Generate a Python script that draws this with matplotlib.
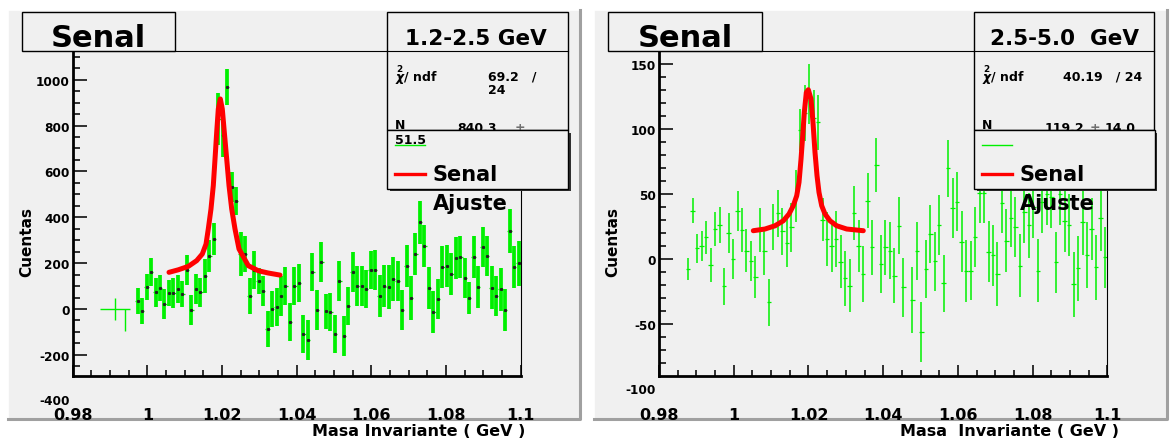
import numpy as np
import matplotlib
matplotlib.use('Agg')
from matplotlib import pyplot as plt
from matplotlib.patches import Rectangle
from matplotlib.lines import Line2D
from matplotlib.ticker import FixedLocator, MultipleLocator, FuncFormatter

plt.rcParams['font.family'] = ['DejaVu Sans']
plt.rcParams['font.weight'] = 'bold'
plt.rcParams['axes.unicode_minus'] = False

W, H = 1176, 439
PAD_GRAY = '#f0f0f0'
GREEN = '#00f000'
RED = '#ff0000'

# histogram binning (same for both pads)
n_bins = 100
x_range = (0.98, 1.1)
x_ticks = [0.98, 1.0, 1.02, 1.04, 1.06, 1.08, 1.1]

# pad 1: 1.2-2.5 GeV
low_first_bin = 14
low_counts = [35, -9, 96, 161, 73, 91, 22, 70, 70, 87, 65, 170, -4, 87, 73, 144, 231, 305,
              830, 760, 968, 532, 471, 240, 240, 57, 170, 122, 79, -87, 0, 9, 57, 100, -57,
              100, 113, -109, -135, 161, -4, 205, -9, -13, -109, 122, -118, 13, 161, 100, 100,
              87, 170, 172, 57, 100, 96, 131, 122, -4, 187, 48, 240, 379, 275, 92, -13, 44,
              183, 187, 153, 222, 227, 135, 48, 227, 96, 270, 231, 92, 57, 87, -4, 340, 183, 200]
low_errors = [55, 58, 58, 60, 62, 58, 65, 55, 65, 60, 58, 67, 67, 65, 63, 73, 69, 71,
              113, 95, 80, 65, 62, 98, 80, 80, 84, 58, 65, 80, 80, 84, 87, 84, 84,
              84, 84, 84, 87, 84, 87, 87, 76, 84, 84, 87, 87, 84, 87, 87, 87,
              84, 84, 87, 91, 91, 98, 94, 87, 87, 91, 94, 91, 94, 91, 91, 91, 87,
              91, 91, 91, 91, 91, 87, 70, 91, 91, 87, 87, 94, 87, 94, 91, 94, 91, 98]
low_stray_x = [0.9914, 0.9940]
low_stray_y = [0, 0]
low_stray_xerr = [0.004, 0.0]
low_stray_down = [46, 95]
low_stray_up = [46, 0]
low_fit_x = [1.00581, 1.00830, 1.01098, 1.01322, 1.01473, 1.01572, 1.01633, 1.01705,
             1.01767, 1.01813, 1.01858, 1.01901, 1.01955, 1.02008, 1.02062, 1.02126,
             1.02188, 1.02260, 1.02348, 1.02455, 1.02704, 1.02971, 1.03239, 1.03553]
low_fit_y = [160, 171, 186, 211, 240, 283, 349, 436, 538, 654, 771, 872, 916, 872, 771, 654,
             538, 436, 349, 262, 189, 167, 157, 148]
low_yticks = [-200, 0, 200, 400, 600, 800, 1000]

# pad 2: 2.5-5.0 GeV
high_first_bin = 6
high_counts = [-7.6, 37.1, 8.3, 10.3, 16.7, -4.3, 23.1, 26.1, -20.9, 20.0, 0.1, 37.1, 22.3,
               6.4, -1.7, -13.7, 22.3, 6.0, -33.1, 24.8, 35.1, 21.3, 12.1, 24.4, 48.6, 99.2,
               112, 127, 108, 105, 30.2, 15.4, 10.3, 15.4, -2.0, -14.5, -20.4, 35.1, 10.3,
               -11.4, 44.8, 9.0, 72.2, -3.8, 9.0, 6.4, -12.7, 25.6, -21.6, np.nan, -31.4, 6.4,
               -56.1, -7.6, 19.2, -1.7, 26.1, -18.6, 69.6, 39.0, 44.0, 13.4, -8.9, -8.9, 16.7,
               51, 51, 5.7, 3.1, -11.4, 43.0, 14.1, 31.5, 24.8, -5.1, 36, 26.1, 40, -8.9, 44,
               50, 48, -2.5, 50, 29.4, 26.1, -19.1, -7.1, 28.7, 3.1, 23.1, -6.3, 31.3, 1.4]
high_errors = [8.2, 9.5, 11.1, 11.5, 12.8, 13.2, 13.0, 14.1, 14.4, 15.3, 15.1, 15.3, 16.6,
               16.4, 15.3, 16.4, 16.9, 17.9, 17.9, 17.8, 17.9, 17.9, 18.5, 18.8, 19.8, 16.2,
               21.5, 23.0, 21.7, 21.1, 16.6, 20.4, 19.8, 21.3, 20.4, 21.1, 20.2, 20.7, 19.8,
               21.1, 21.1, 21.2, 20.4, 22.0, 21.1, 21.7, 21.1, 21.7, 22.5, np.nan, 25.0, 22.3,
               23.0, 22.1, 22.0, 22.6, 22.8, 21.7, 22.0, 23.0, 22.8, 23.6, 23.6, 22.6, 23.0,
               23.0, 23.0, 23.6, 23.4, 24.3, 23.0, 24.3, 22.4, 23.0, 24.3, 24.0, 24.9, 24.0,
               24.3, 24.0, 24.0, 24.0, 23.6, 24.0, 24.3, 23.6, 24.9, 24.9, 25.6, 25.6, 23.6,
               24.9, 24.9, 23.6]
high_fit_x = [1.00522, 1.00835, 1.01103, 1.01325, 1.01478, 1.01593, 1.01684, 1.01746,
              1.01800, 1.01845, 1.01888, 1.01942, 1.01995, 1.02067, 1.02120, 1.02174,
              1.02228, 1.02281, 1.02353, 1.02442, 1.02576, 1.02755, 1.03023, 1.03467]
high_fit_y = [21.8, 23.1, 25.6, 29.4, 34.6, 41.0, 48.6, 58.9, 76.8, 94.6, 112.6, 127.9,
              129.9, 122.8, 104.9, 81.9, 64.0, 51.2, 41.0, 34.6, 29.4, 25.6, 23.1, 21.8]
high_yticks = [-50, 0, 50, 100, 150]

edges = np.linspace(x_range[0], x_range[1], n_bins + 1)
centers = (edges[:-1] + edges[1:]) / 2
half_bin = (edges[1] - edges[0]) / 2

fig = plt.figure(figsize=(W / 100, H / 100), dpi=100)
fig.patch.set_facecolor('white')


# helpers working in image pixels (origin top-left)
def px_rect(x0, y0, x1, y1, **kw):
    fig.add_artist(Rectangle((x0 / W, 1 - y1 / H), (x1 - x0) / W, (y1 - y0) / H,
                             transform=fig.transFigure, **kw))


def px_line(xs, ys, **kw):
    fig.add_artist(Line2D([x / W for x in xs], [1 - y / H for y in ys],
                          transform=fig.transFigure, **kw))


def px_text(x, y, s, **kw):
    return fig.text(x / W, 1 - y / H, s, **kw)


def draw_pad(dx, counts, errors, first_bin, fit_x, fit_y, ylim, yticks, y_extra, minor, thick):
    px_rect(dx + 7.5, 10.5, dx + 580, 420, facecolor=PAD_GRAY, edgecolor='none', zorder=-3)
    px_line([dx + 7.5, dx + 7.5, dx + 580], [420, 10.5, 10.5], color='white', lw=1.2, zorder=-2)
    px_line([dx + 7.5, dx + 580, dx + 580], [420, 420, 10.5], color='#a0a0a0', lw=2.2, zorder=-2)

    ax = fig.add_axes([(dx + 72.6) / W, 1 - 377 / H, 448.2 / W, 325 / H])
    ax.set_facecolor('none')

    x = centers[first_bin:first_bin + len(counts)]
    y = np.array(counts, dtype=float)
    e = np.array(errors, dtype=float)
    ok = ~np.isnan(y)
    x, y, e = x[ok], y[ok], e[ok]
    if thick:
        ax.vlines(x, y - e, y + e, color=GREEN, lw=2.7)
        ax.hlines(y, x - half_bin, x + half_bin, color=GREEN, lw=0.9)
        ax.plot(x, y, ls='none', marker='s', ms=1.2, color='#202020')
    else:
        ax.vlines(x, y - e, y + e, color=GREEN, lw=1.1)
        ax.hlines(y, x - half_bin, x + half_bin, color=GREEN, lw=0.9)

    ax.plot(fit_x, fit_y, color=RED, lw=3.6, solid_capstyle='round', zorder=5)

    ax.set_xlim(*x_range)
    ax.set_ylim(*ylim)
    ax.xaxis.set_major_locator(FixedLocator(x_ticks))
    ax.xaxis.set_minor_locator(MultipleLocator(0.005))
    ax.xaxis.set_major_formatter(FuncFormatter(lambda v, p: f'{v:g}'))
    ax.yaxis.set_major_locator(FixedLocator(yticks))
    ax.yaxis.set_minor_locator(MultipleLocator(minor))
    ax.tick_params(which='both', direction='in', top=False, right=False, color='#202020')
    ax.tick_params(axis='x', which='major', length=8, width=1.3, pad=22, labelsize=11.5)
    ax.tick_params(axis='x', which='minor', length=4, width=1.3)
    ax.tick_params(axis='y', which='major', length=10, width=1.3, pad=2, labelsize=8.7)
    ax.tick_params(axis='y', which='minor', length=5, width=1.3)
    for side in ['left', 'bottom']:
        ax.spines[side].set_linewidth(2)
    for side in ['top', 'right']:
        ax.spines[side].set_linewidth(0.8)
    ax.text(-0.0067, y_extra, f'{y_extra}', transform=ax.get_yaxis_transform(),
            ha='right', va='center', fontsize=8.7, clip_on=False)

    # title pave
    px_rect(dx + 21.5, 13.3, dx + 175, 51.7, facecolor=PAD_GRAY, edgecolor='black', lw=1, zorder=3)
    px_text(dx + 98.5, 46.7, 'Senal', fontsize=22, ha='center', va='baseline', zorder=4)

    # stats box
    px_rect(dx + 387, 13.3, dx + 567.5, 130.5, facecolor=PAD_GRAY, edgecolor='black', lw=1, zorder=3)
    px_line([dx + 387, dx + 567.5], [52, 52], color='black', lw=0.8, zorder=4)
    px_text(dx + 395, 76, r'$\overset{2}{\chi}$/ ndf', fontsize=9, va='center', zorder=4)
    px_text(dx + 395, 126, 'N', fontsize=9, va='center', zorder=4)
    px_text(dx + 404, 133, '+', fontsize=5, color='#606060', va='center', zorder=4)

    # legend
    px_rect(dx + 390, 134, dx + 570.5, 192, facecolor='#303030', edgecolor='none', zorder=5)
    px_rect(dx + 387, 131, dx + 568, 189.5, facecolor=PAD_GRAY, edgecolor='black', lw=1, zorder=6)
    px_line([dx + 395, dx + 425], [146, 146], color=GREEN, lw=1, zorder=7)
    px_line([dx + 395, dx + 425], [175, 175], color=RED, lw=2.4, zorder=7)
    px_text(dx + 433, 181, 'Senal', fontsize=15, va='baseline', zorder=7)
    px_text(dx + 433, 210, 'Ajuste', fontsize=15, va='baseline', zorder=7)

    px_text(dx + 26.3, 242.5, 'Cuentas', fontsize=11, rotation=90, ha='center', va='center')
    return ax


ax1 = draw_pad(0, low_counts, low_errors, low_first_bin, low_fit_x, low_fit_y,
               (-292, 1125), low_yticks, -400, 50, True)
ax1.errorbar(low_stray_x, low_stray_y, xerr=low_stray_xerr, yerr=[low_stray_down, low_stray_up],
             fmt='none', ecolor=GREEN, elinewidth=1)
px_text(475.5, 45, '1.2-2.5 GeV', fontsize=15.5, ha='center', va='baseline', zorder=4)
px_text(488, 77, '69.2   /', fontsize=9, va='center', zorder=4)
px_text(488, 90, '24', fontsize=9, va='center', zorder=4)
px_text(457, 129, '840.3', fontsize=9, va='center', zorder=4)
px_text(515, 129, '\u00b1', fontsize=9, color='#707070', va='center', zorder=4)
px_text(395, 141, '51.5', fontsize=9, va='center', zorder=8)
px_text(525, 436.5, 'Masa Invariante ( GeV )', fontsize=11.5, ha='right', va='baseline')

dx = 586.5
ax2 = draw_pad(dx, high_counts, high_errors, high_first_bin, high_fit_x, high_fit_y,
               (-89.6, 159.6), high_yticks, -100, 10, False)
px_text(dx + 478, 45, '2.5-5.0  GeV', fontsize=15.5, ha='center', va='baseline', zorder=4)
px_text(dx + 476.5, 77, '40.19   / 24', fontsize=9, va='center', zorder=4)
px_text(dx + 458.5, 129, '119.2', fontsize=9, va='center', zorder=4)
px_text(dx + 503.5, 129, '\u00b1', fontsize=9, color='#707070', va='center', zorder=4)
px_text(dx + 518.5, 129, '14.0', fontsize=9, va='center', zorder=4)
px_text(dx + 532, 436.5, 'Masa  Invariante ( GeV )', fontsize=11.5, ha='right', va='baseline')

fig.savefig('out.png', dpi=100)
